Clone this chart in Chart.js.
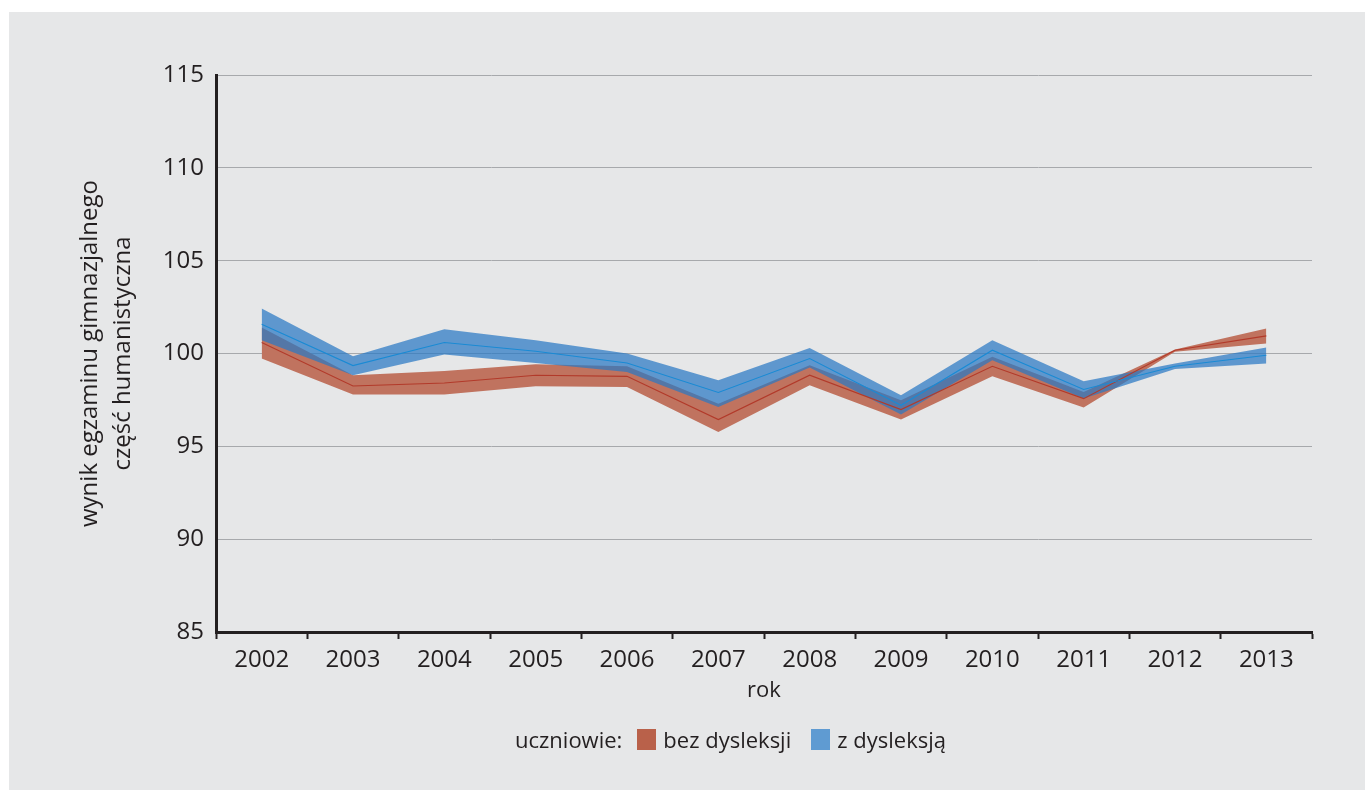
<!DOCTYPE html>
<html>
<head>
<meta charset="utf-8">
<script src="https://cdn.jsdelivr.net/npm/chart.js@4/dist/chart.umd.min.js"></script>
<style>
  body { margin: 0; background: #fff; width: 1365px; height: 790px; overflow: hidden; font-family: 'Open Sans', sans-serif; }
  #panel { position: absolute; left: 9px; top: 12px; width: 1356px; height: 778px; background: #e6e7e8; }
  #chart { position: absolute; left: 0; top: 0; }
  #legend { position: absolute; left: 506px; top: 712px; font-size: 22px; color: #231f20; display: flex; align-items: center; white-space: nowrap; }
  #legend .box { display: inline-block; width: 19px; height: 21px; margin: 0 7px 0 0; }
</style>
</head>
<body>
<div id="panel">
  <canvas id="chart" width="1356" height="778"></canvas>
  <div id="legend">
    <span style="margin-right: 15px">uczniowie:</span>
    <span class="box" style="background:#b9614a"></span><span style="margin-right: 20px">bez dysleksji</span>
    <span class="box" style="background:#5f9bd2"></span><span>z dysleksją</span>
  </div>
</div>
<script>
const years = ['2002', '2003', '2004', '2005', '2006', '2007', '2008', '2009', '2010', '2011', '2012', '2013'];

// uczniowie bez dysleksji
const redCenter = [100.59, 98.25, 98.41, 98.83, 98.77, 96.44, 98.83, 96.98, 99.31, 97.57, 100.18, 100.95];
const redUpper  = [101.40, 98.83, 99.06, 99.42, 99.31, 97.30, 99.37, 97.48, 99.82, 97.93, 100.22, 101.35];
const redLower  = [99.73, 97.79, 97.79, 98.24, 98.20, 95.77, 98.29, 96.44, 98.77, 97.09, 100.09, 100.54];

// uczniowie z dysleksją
const blueCenter = [101.58, 99.35, 100.59, 100.12, 99.49, 97.90, 99.73, 97.21, 100.18, 98.06, 99.31, 99.91];
const blueUpper  = [102.43, 99.85, 101.30, 100.72, 100.00, 98.56, 100.30, 97.75, 100.72, 98.50, 99.46, 100.32];
const blueLower  = [100.72, 98.83, 99.95, 99.49, 99.00, 97.12, 99.24, 96.72, 99.64, 97.57, 99.17, 99.46];

const yTicks = [85, 90, 95, 100, 105, 110, 115];

const textColor = '#231f20';
const tickFont = { family: "'Open Sans', sans-serif", size: 24 };
const titleFont = { family: "'Open Sans', sans-serif", size: 22 };

function band(data, fill, color, order) {
  return {
    data: data,
    borderWidth: 0,
    pointRadius: 0,
    tension: 0,
    fill: fill,
    backgroundColor: color,
    order: order,
  };
}

const ctx = document.getElementById('chart').getContext('2d');
new Chart(ctx, {
  type: 'line',
  data: {
    labels: years,
    datasets: [
      band(redUpper, false, 'transparent', 3),
      band(redLower, '-1', '#c0735f', 3),
      band(blueUpper, false, 'transparent', 2),
      band(blueLower, '-1', 'rgba(42, 121, 195, 0.72)', 2),
      { data: redCenter, borderColor: '#b23a2a', borderWidth: 1.1, pointRadius: 0, fill: false, tension: 0, order: 1 },
      { data: blueCenter, borderColor: '#1a8ad4', borderWidth: 1.1, pointRadius: 0, fill: false, tension: 0, order: 0 },
    ],
  },
  options: {
    responsive: false,
    animation: false,
    devicePixelRatio: 1,
    layout: {
      padding: { left: 48, right: 53, top: 63, bottom: 48 },
    },
    scales: {
      x: {
        type: 'category',
        offset: true,
        grid: {
          offset: true,
          drawOnChartArea: false,
          drawTicks: true,
          tickLength: 7,
          tickColor: textColor,
          tickWidth: 2,
        },
        border: { color: textColor, width: 3 },
        ticks: { color: textColor, font: tickFont, padding: 7, maxRotation: 0 },
        title: { display: true, text: 'rok', color: textColor, font: titleFont, padding: { top: 0, bottom: 38 } },
        afterFit: (scale) => { scale.height = 110; },
      },
      y: {
        min: 85,
        max: 115,
        afterBuildTicks: (scale) => { scale.ticks = yTicks.map(v => ({ value: v })); },
        grid: { color: '#a7a9ac', lineWidth: 1, drawTicks: false },
        border: { color: textColor, width: 3 },
        ticks: { color: textColor, font: tickFont, padding: 12 },
        title: {
          display: true,
          text: ['wynik egzaminu gimnazjalnego', 'część humanistyczna'],
          color: textColor,
          font: { family: "'Open Sans', sans-serif", size: 24, lineHeight: 1.375 },
          padding: { top: 17, bottom: 0 },
        },
        afterFit: (scale) => { scale.width = 159; },
      },
    },
    plugins: {
      legend: { display: false },
      tooltip: { enabled: false },
    },
  },
});
</script>
</body>
</html>
